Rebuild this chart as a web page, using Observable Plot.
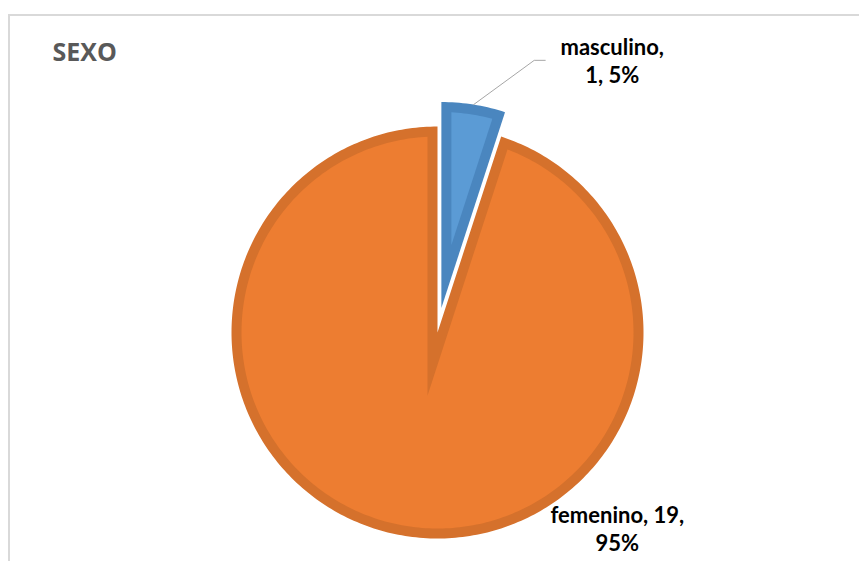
<!DOCTYPE html>
<html>
<head>
<meta charset="utf-8">
<script src="https://cdn.jsdelivr.net/npm/d3@7"></script>
<script src="https://cdn.jsdelivr.net/npm/@observablehq/plot@0.6"></script>
<style>
  html, body { margin: 0; padding: 0; background: #fff; overflow: hidden; }
  #wrap { position: relative; width: 859px; height: 561px; }
  #frame { position: absolute; left: 8px; top: 14px; width: 900px; height: 600px;
           border-top: 2px solid #D9D9D9; border-left: 2px solid #D9D9D9; box-sizing: border-box; }
  #chart { position: absolute; left: 0; top: 0; }
</style>
</head>
<body>
<div id="wrap"><div id="frame"></div><div id="chart"></div></div>
<script>
// ---- data ----
const title = "SEXO";
const categories = ["masculino", "femenino"];
const counts = [1, 19];
const percentLabels = ["5%", "95%"];
const lightColors = ["#5B9BD5", "#ED7D31"];
const darkColors = ["#4A86BF", "#D5712C"];
const explodeFraction = [0.12, 0];      // slice explosion, in radii
const labelAngleDeg = [32.7, 137.4];    // label placement (clockwise from top)
const labelRadius = [1.57, 1.29];       // label placement, in radii

// ---- layout ----
const W = 859, H = 561;
const R = 206;                 // pie radius in px
const CX = 437, CY = 332;      // pie centre in px
const borderPx = 10;           // inner border width in px
const wu = borderPx / R;

const toRad = d => d * Math.PI / 180;
const dir = a => [Math.sin(a), Math.cos(a)]; // clockwise from top, y up

const pie = d3.pie().sort(null).value(d => d.count);
const rows = categories.map((c, i) => ({name: c, count: counts[i], pct: percentLabels[i], i}));
const arcs = pie(rows);

function arcPoints(cx, cy, r, a0, a1, id) {
  const pts = [];
  const n = Math.max(2, Math.ceil(Math.abs(a1 - a0) / toRad(1)));
  for (let k = 0; k <= n; k++) {
    const a = a0 + (a1 - a0) * k / n;
    const [dx, dy] = dir(a);
    pts.push({x: cx + r * dx, y: cy + r * dy, id});
  }
  return pts;
}
function rayCircle(T, a, C, r) {
  const [ux, uy] = dir(a);
  const px = T[0] - C[0], py = T[1] - C[1];
  const b = px * ux + py * uy;
  const c = px * px + py * py - r * r;
  const t = -b + Math.sqrt(b * b - c);
  return [T[0] + t * ux, T[1] + t * uy];
}
const angOf = (P, C) => { let a = Math.atan2(P[0] - C[0], P[1] - C[1]); if (a < 0) a += 2 * Math.PI; return a; };

const slices = arcs.map(s => {
  const i = s.data.i;
  const mid = (s.startAngle + s.endAngle) / 2;
  const span = s.endAngle - s.startAngle;
  const [mx, my] = dir(mid);
  const C = [explodeFraction[i] * mx, explodeFraction[i] * my];
  const id = s.data.name;
  const o = [{x: C[0], y: C[1], id}, ...arcPoints(C[0], C[1], 1, s.startAngle, s.endAngle, id), {x: C[0], y: C[1], id}];
  const d = wu / Math.sin(span / 2);
  const T = [C[0] + d * mx, C[1] + d * my];
  const P0 = rayCircle(T, s.startAngle, C, 1 - wu);
  const P1 = rayCircle(T, s.endAngle, C, 1 - wu);
  let b0 = angOf(P0, C), b1 = angOf(P1, C);
  if (b1 < b0) b1 += 2 * Math.PI;
  const inn = [{x: T[0], y: T[1], id}, ...arcPoints(C[0], C[1], 1 - wu, b0, b1, id), {x: T[0], y: T[1], id}];
  return {i, id, outer: o, inner: inn, C, mid};
});

const labels = rows.map((r, i) => {
  const [dx, dy] = dir(toRad(labelAngleDeg[i]));
  return {x: labelRadius[i] * dx, y: labelRadius[i] * dy,
          text: i === 0 ? `${r.name},\n${r.count}, ${r.pct}` : `${r.name}, ${r.count},\n${r.pct}`};
});

// leader line for the exploded slice label
const ms = slices[0];
const [lmx, lmy] = dir(ms.mid);
const leader = [
  {x: ms.C[0] + lmx, y: ms.C[1] + lmy},
  {x: labels[0].x - 78 / R, y: labels[0].y},
  {x: labels[0].x - 67 / R, y: labels[0].y}
];

const marks = [];
slices.forEach(s => {
  marks.push(Plot.line(s.outer, {x: "x", y: "y", fill: darkColors[s.i], stroke: "none", curve: "linear"}));
  marks.push(Plot.line(s.inner, {x: "x", y: "y", fill: lightColors[s.i], stroke: "none", curve: "linear"}));
});
marks.push(Plot.line(leader, {x: "x", y: "y", stroke: "#A6A6A6", strokeWidth: 1}));
marks.push(Plot.text(labels, {x: "x", y: "y", text: "text", fontSize: 22, fontWeight: "bold",
  fontFamily: "Lato, 'Open Sans', sans-serif", fill: "#000", textAnchor: "middle", lineHeight: 1.25}));
marks.push(Plot.text([title], {frameAnchor: "top-left", dx: 52, dy: 43, lineAnchor: "top", textAnchor: "start",
  fontSize: 25, fontWeight: "bold", fontFamily: "'Open Sans', sans-serif", fill: "#595959", letterSpacing: 1}));

const chart = Plot.plot({
  width: W, height: H, margin: 0,
  style: {background: "transparent", overflow: "visible"},
  x: {domain: [-CX / R, (W - CX) / R], range: [0, W], axis: null},
  y: {domain: [-(H - CY) / R, CY / R], range: [H, 0], axis: null},
  marks
});
document.getElementById("chart").appendChild(chart);
</script>
</body>
</html>
